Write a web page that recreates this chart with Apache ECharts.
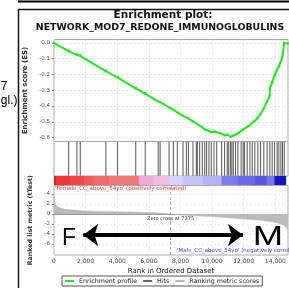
<!DOCTYPE html>
<html>
<head>
<meta charset="utf-8">
<script src="https://cdn.jsdelivr.net/npm/echarts@6/dist/echarts.min.js"></script>
<style>
  html, body { margin: 0; padding: 0; background: #fff; }
  #chart { width: 289px; height: 288px; }
</style>
</head>
<body>
<div id="chart"></div>
<script>
// running enrichment score
const esRanks = [0, 920, 930, 1440, 1460, 1650, 1670, 3270, 3290, 4010,
  4030, 5160, 5180, 5760, 5780, 6580, 6720, 7280, 7560, 7800,
  8160, 8500, 8790, 9070, 9380, 9530, 9800, 9950, 10120, 10290,
  10500, 10790, 10960, 11170, 11340, 11480, 11630, 11840, 11970, 12220,
  12390, 12540, 12700, 12890, 13060, 13270, 13480, 13640, 13660, 13800,
  13950, 14110, 14220, 14350, 14450, 14560, 14800]
const esScores = [0, -0.052, -0.046, -0.076, -0.071, -0.082, -0.077, -0.178, -0.173, -0.218,
  -0.214, -0.288, -0.284, -0.322, -0.318, -0.37, -0.375, -0.408, -0.424, -0.44,
  -0.462, -0.478, -0.497, -0.515, -0.535, -0.548, -0.558, -0.565, -0.561, -0.566,
  -0.572, -0.585, -0.582, -0.595, -0.588, -0.582, -0.572, -0.558, -0.548, -0.532,
  -0.522, -0.508, -0.494, -0.474, -0.452, -0.414, -0.37, -0.335, -0.285, -0.25,
  -0.205, -0.17, -0.15, -0.115, -0.085, 0.002, -0.004]

// gene set members in the ranked list
const hitRanks = [925, 1450, 1660, 3280, 4020, 5170, 5770, 6590, 6710, 7280, 7550, 7800,
  8160, 8370, 8500, 8790, 9000, 9070, 9210, 9380, 9530, 9650, 9800, 9950, 10120, 10290,
  10600, 10790, 10960, 11050, 11170, 11250, 11340, 11480, 11630, 11840, 11970, 12050,
  12220, 12390, 12540, 12700, 12890, 13060, 13270, 13480, 13650, 13800, 13950, 14110,
  14220, 14350, 14450, 14560]

// ranked list metric (tTest)
const metricRanks = [0, 20, 60, 120, 250, 400, 700, 1200, 1900, 3000, 4000, 5000, 6000, 6800,
  7375, 8000, 8600, 9500, 10500, 11600, 12500, 13200, 13700, 14100, 14500, 14700, 14800]
const metricValues = [3.8, 3.0, 2.3, 1.8, 1.4, 1.2, 0.95, 0.78, 0.62, 0.52, 0.45, 0.38, 0.3, 0.14,
  0, -0.15, -0.3, -0.45, -0.62, -0.9, -1.1, -1.3, -1.5, -1.75, -2.2, -2.7, -3.2]

// heat bar under the hits
const barStarts = [0, 130, 1000, 1900, 2500, 3500, 5360, 6300, 7260, 8100, 9400, 10600, 11600, 12700, 13450, 13950]
const barEnds = [130, 1000, 1900, 2500, 3500, 5360, 6300, 7260, 8100, 9400, 10600, 11600, 12700, 13450, 13950, 14650]

const esTicks = [0, -0.1, -0.2, -0.3, -0.4, -0.5, -0.6]
const metricTicks = [4, 2, 0, -2, -4, -6]
const rankMax = 14800
const zeroCross = 7375

const barColours = ['#d81e1e', '#ee3434', '#f04646', '#f25a5a', '#f36a6a', '#f47777',
  '#f4a8d8', '#f3bce6', '#d4d4f8', '#c6c6f5', '#b4b4f2', '#7c7cef', '#6a6aee',
  '#5858e4', '#7676ec', '#1616c0']

const font = 'DejaVu Sans'

const getOption = () => {
  const xAxes = [0, 1, 2, 3].map(i => ({
    type: 'value', gridIndex: i, min: 0, max: rankMax, interval: 2000,
    axisLine: { show: i === 3, lineStyle: { color: '#999' } },
    axisTick: { show: false },
    axisLabel: {
      show: i === 3, fontSize: 6, color: '#444', margin: 3, fontFamily: font,
      showMaxLabel: false, formatter: v => v.toLocaleString('en-US')
    },
    splitLine: { show: i === 0 || i === 3, lineStyle: { color: '#e0e0e0', type: [2, 2], width: 0.8 } },
    name: i === 3 ? 'Rank in Ordered Dataset' : '',
    nameLocation: 'middle', nameGap: 13,
    nameTextStyle: { fontSize: 7, color: '#222', fontFamily: font }
  }))

  return {
    animation: false,
    textStyle: { fontFamily: font },
    grid: [
      { left: 54, right: 1, top: 39.5, height: 102, show: true, borderColor: '#a8a8a8' },
      { left: 54, right: 1, top: 141.5, height: 34.5, show: true, borderColor: '#a8a8a8' },
      { left: 54, right: 1, top: 176, height: 9 },
      { left: 54, right: 1, top: 185.5, height: 69.5, show: true, borderColor: '#a8a8a8' }
    ],
    xAxis: xAxes,
    yAxis: [
      {
        type: 'value', gridIndex: 0, min: -0.625, max: 0.022,
        axisLine: { show: false },
        axisTick: { show: true, length: 2, customValues: esTicks, lineStyle: { color: '#888' } },
        axisLabel: { fontSize: 5.5, color: '#555', margin: 4, customValues: esTicks, formatter: v => v.toFixed(1) },
        splitLine: { show: true, lineStyle: { color: '#e0e0e0', type: [2, 2], width: 0.8 } },
        name: 'Enrichment score (ES)', nameLocation: 'middle', nameGap: 16,
        nameTextStyle: { fontSize: 7, fontWeight: 'bold', color: '#333', fontFamily: font }
      },
      { type: 'value', gridIndex: 1, min: 0, max: 1, show: false },
      { type: 'value', gridIndex: 2, min: 0, max: 1, show: false },
      {
        type: 'value', gridIndex: 3, min: -8.2, max: 5.7,
        axisLine: { show: false },
        axisTick: { show: true, length: 2, customValues: metricTicks, lineStyle: { color: '#888' } },
        axisLabel: { fontSize: 5.5, color: '#555', margin: 4, customValues: metricTicks },
        splitLine: { show: true, lineStyle: { color: '#ececec', type: [2, 2], width: 0.8 } },
        name: 'Ranked list metric (tTest)', nameLocation: 'middle', nameGap: 17,
        nameTextStyle: { fontSize: 6.3, fontWeight: 'bold', color: '#333', fontFamily: font }
      }
    ],
    legend: {
      data: [
        { name: 'Enrichment profile', icon: 'rect' },
        { name: 'Hits', icon: 'rect' },
        { name: 'Ranking metric scores', icon: 'rect' }
      ],
      left: 62, top: 276, itemWidth: 9, itemHeight: 2, itemGap: 6,
      selectedMode: false,
      textStyle: { fontSize: 6.3, color: '#222', fontFamily: font },
      borderColor: '#555', borderWidth: 1, padding: [2, 3]
    },
    series: [
      {
        name: 'Enrichment profile', type: 'line', xAxisIndex: 0, yAxisIndex: 0,
        data: esRanks.map((r, i) => [r, esScores[i]]),
        color: '#22e622', lineStyle: { width: 2 },
        symbol: 'rect', symbolSize: 2, showSymbol: true
      },
      {
        name: 'Hits', type: 'scatter', xAxisIndex: 1, yAxisIndex: 1,
        data: hitRanks.map(r => [r, 0.5]),
        symbol: 'rect', symbolSize: [1.1, 34],
        itemStyle: { color: '#4a4a4a', opacity: 0.85 }
      },
      {
        name: 'bar', type: 'custom', xAxisIndex: 2, yAxisIndex: 2,
        data: barStarts.map((s, i) => [s, barEnds[i], i]),
        renderItem: (params, api) => {
          const a = api.coord([api.value(0), 0])
          const b = api.coord([api.value(1), 1])
          return {
            type: 'rect',
            shape: { x: a[0], y: b[1], width: b[0] - a[0] + 0.5, height: a[1] - b[1] },
            style: { fill: barColours[api.value(2)] }
          }
        }
      },
      {
        name: 'Ranking metric scores', type: 'line', xAxisIndex: 3, yAxisIndex: 3,
        data: metricRanks.map((r, i) => [r, metricValues[i]]),
        color: '#b4b4b4', symbol: 'none', lineStyle: { width: 0.5 },
        areaStyle: { color: '#bababa', opacity: 1 },
        markLine: {
          silent: true, symbol: 'none', label: { show: false },
          data: [
            { xAxis: zeroCross, lineStyle: { color: '#aaa', type: [3, 2], width: 0.8 } },
            [
              { coord: [1850, -4.2], symbol: 'arrow', symbolSize: [17, 15], lineStyle: { color: '#000', width: 4, type: 'solid' } },
              { coord: [11950, -4.2], symbol: 'arrow', symbolSize: [17, 15] }
            ]
          ]
        },
        markPoint: {
          silent: true,
          data: [{
            coord: [zeroCross, -1], symbol: 'circle', symbolSize: 1,
            itemStyle: { color: 'transparent' },
            label: { show: true, position: 'inside', formatter: 'Zero cross at ' + zeroCross, fontSize: 5, color: '#333' }
          }]
        }
      }
    ],
    graphic: [
      { type: 'line', shape: { x1: 18, y1: 1.5, x2: 289, y2: 1.5 }, style: { stroke: '#000', lineWidth: 2 } },
      { type: 'rect', shape: { x: 18.5, y: 9.5, width: 290, height: 300 }, style: { fill: 'none', stroke: '#111', lineWidth: 1.5 } },
      { type: 'text', x: 7.5, y: 87, style: { text: '7', font: '12px "Liberation Sans"', fill: '#000', textAlign: 'right', textVerticalAlign: 'middle', align: 'right', verticalAlign: 'middle' } },
      { type: 'text', x: 17.5, y: 101, style: { text: 'gl.)', font: '12px "Liberation Sans"', fill: '#000', textAlign: 'right', textVerticalAlign: 'middle', align: 'right', verticalAlign: 'middle' } },
      { type: 'text', x: 163, y: 15.5, style: { text: 'Enrichment plot:', font: 'bold 10.5px "DejaVu Sans"', fill: '#111', textAlign: 'center', textVerticalAlign: 'middle', align: 'center', verticalAlign: 'middle' } },
      { type: 'text', x: 160, y: 28, style: { text: 'NETWORK_MOD7_REDONE_IMMUNOGLOBULINS', font: 'bold 9.4px "DejaVu Sans"', fill: '#111', textAlign: 'center', textVerticalAlign: 'middle', align: 'center', verticalAlign: 'middle' } },
      { type: 'text', x: 55, y: 189, z: 10, style: { text: "'Female_CC_above_54yo' (positively correlated)", font: '5.5px "DejaVu Sans"', fill: '#e23b3b', textAlign: 'left', textVerticalAlign: 'middle', align: 'left', verticalAlign: 'middle' } },
      { type: 'text', x: 177, y: 251, z: 10, style: { text: "'Male_CC_above_54yo' (negatively correlated)", font: '5.5px "DejaVu Sans"', fill: '#4b4be0', textAlign: 'left', textVerticalAlign: 'middle', align: 'left', verticalAlign: 'middle' } },
      { type: 'text', x: 69, y: 239, z: 10, style: { text: 'F', font: '23px "Liberation Sans"', fill: '#000', textAlign: 'center', textVerticalAlign: 'middle', align: 'center', verticalAlign: 'middle' } },
      { type: 'text', x: 268, y: 238, scaleX: 1.35, z: 10, style: { text: 'M', font: '27px "Liberation Sans"', fill: '#000', textAlign: 'center', textVerticalAlign: 'middle', align: 'center', verticalAlign: 'middle' } }
    ]
  }
}

const iniciarChart = () => {
  const chart = echarts.init(document.getElementById('chart'))
  chart.setOption(getOption())
}

window.addEventListener('load', () => {
  iniciarChart()
})
</script>
</body>
</html>
